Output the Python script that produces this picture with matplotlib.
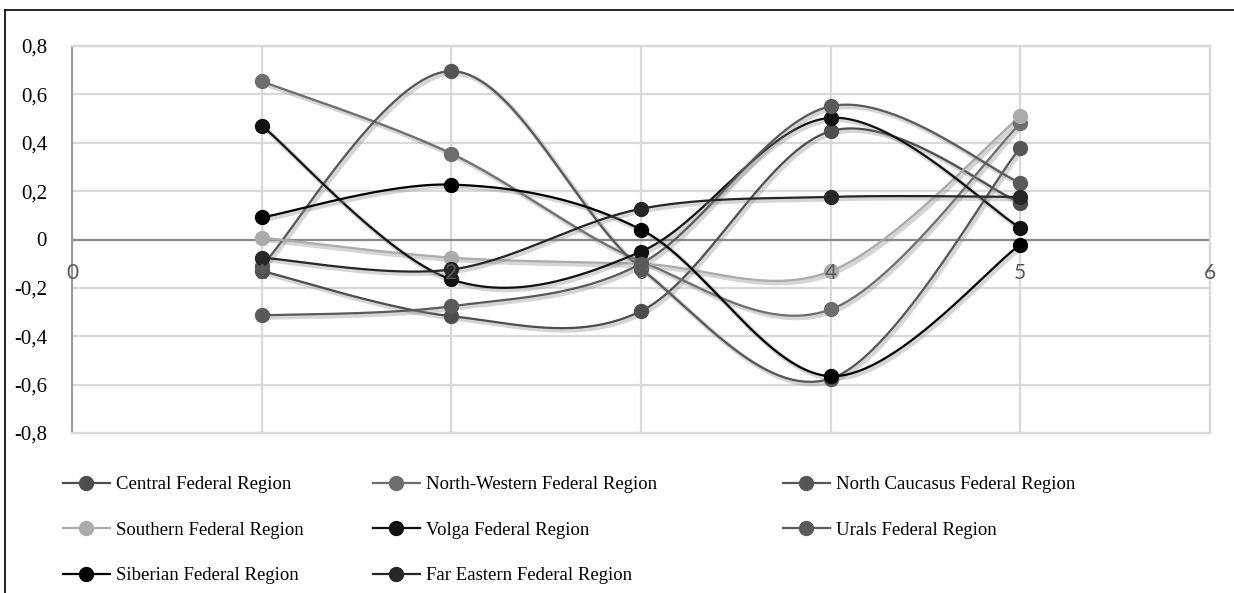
import numpy as np
import matplotlib
matplotlib.use("Agg")
import matplotlib.pyplot as plt
from matplotlib.lines import Line2D
import matplotlib.patheffects as pe

# ---------------- data ----------------
x_vals = [1, 2, 3, 4, 5]
series_names = [
    "Central Federal Region",
    "North-Western Federal Region",
    "North Caucasus Federal Region",
    "Southern Federal Region",
    "Volga Federal Region",
    "Urals Federal Region",
    "Siberian Federal Region",
    "Far Eastern Federal Region",
]
central = [-0.13, -0.317, -0.296, 0.448, 0.152]
north_western = [0.654, 0.355, -0.09, -0.289, 0.48]
north_caucasus = [-0.11, 0.696, -0.12, -0.575, 0.38]
southern = [0.008, -0.075, -0.10, -0.131, 0.51]
volga = [0.471, -0.165, -0.05, 0.503, 0.048]
urals = [-0.314, -0.276, -0.10, 0.551, 0.234]
siberian = [0.091, 0.227, 0.041, -0.565, -0.021]
far_eastern = [-0.075, -0.124, 0.127, 0.176, 0.176]
series_values = [central, north_western, north_caucasus, southern,
                 volga, urals, siberian, far_eastern]
series_colors = ["#4d4d4d", "#6e6e6e", "#565656", "#ababab",
                 "#111111", "#5a5a5a", "#000000", "#262626"]

y_ticks = [-0.8, -0.6, -0.4, -0.2, 0.0, 0.2, 0.4, 0.6, 0.8]
y_tick_labels = ["-0,8", "-0,6", "-0,4", "-0,2", "0", "0,2", "0,4", "0,6", "0,8"]
x_ticks = [0, 1, 2, 3, 4, 5, 6]
x_tick_labels = ["0", "1", "2", "3", "4", "5", "6"]


def smooth(xs, ys, n=60):
    """Excel-style smoothed line (Catmull-Rom / Bezier with 1/6 control points)."""
    P = np.column_stack([xs, ys]).astype(float)
    m = len(P)
    out = []
    for i in range(m - 1):
        p0 = P[i - 1] if i > 0 else P[i]
        p1 = P[i]
        p2 = P[i + 1]
        p3 = P[i + 2] if i + 2 < m else P[i + 1]
        c1 = p1 + (p2 - p0) / 6.0
        c2 = p2 - (p3 - p1) / 6.0
        t = np.linspace(0, 1, n)[:, None]
        seg = ((1 - t) ** 3) * p1 + 3 * ((1 - t) ** 2) * t * c1 + 3 * (1 - t) * t ** 2 * c2 + t ** 3 * p2
        out.append(seg if i == 0 else seg[1:])
    out = np.vstack(out)
    return out[:, 0], out[:, 1]


W, H = 1234, 593
fig = plt.figure(figsize=(W / 100, H / 100), dpi=100)
left_px, right_px, top_px, bottom_px = 72, 1210, 46, 433
ax = fig.add_axes([left_px / W, 1 - bottom_px / H,
                   (right_px - left_px) / W, (bottom_px - top_px) / H])

ax.set_xlim(0, 6)
ax.set_ylim(-0.8, 0.8)

grid_c = "#d9d9d9"
ax.set_yticks(y_ticks)
ax.set_yticklabels(y_tick_labels, fontfamily="Liberation Serif", fontsize=15)
ax.set_xticks(x_ticks)
ax.set_xticklabels([])
ax.tick_params(axis="both", length=0)
ax.tick_params(axis="y", pad=18)
ax.grid(True, color=grid_c, linewidth=1.6)
ax.set_axisbelow(True)
for s in ["top", "right", "bottom"]:
    ax.spines[s].set_color(grid_c)
    ax.spines[s].set_linewidth(1.6)
ax.spines["left"].set_color("#9a9a9a")
ax.spines["left"].set_linewidth(1.5)
ax.axhline(0, color="#8a8a8a", linewidth=1.6, zorder=1.5)

shadow = [pe.SimpleLineShadow(offset=(1.5, -1.5), shadow_color="#888888", alpha=0.35, linewidth=3.5),
          pe.Normal()]

handles = []
for name, vals, col in zip(series_names, series_values, series_colors):
    sx, sy = smooth(x_vals, vals)
    ax.plot(sx, sy, color=col, linewidth=1.6, zorder=3, path_effects=shadow)
    ax.plot(x_vals, vals, linestyle="none", marker="o", markersize=10,
            color=col, zorder=4)
    handles.append(Line2D([], [], color=col, linewidth=1.6, marker="o",
                          markersize=10, label=name))

for xt, lab in zip(x_ticks, x_tick_labels):
    ax.annotate(lab, xy=(xt, 0), xytext=(0, -17), textcoords="offset points",
                ha="center", va="top", fontsize=15, color="#595959",
                fontfamily="Lato", zorder=10, annotation_clip=False)

# legend: three columns
cols = [[0, 3, 6], [1, 4, 7], [2, 5]]
col_x = [63, 373, 783]
for ci, idxs in enumerate(cols):
    fig.legend(handles=[handles[i] for i in idxs], loc="upper left",
               bbox_to_anchor=(col_x[ci] / W, 1 - 476 / H),
               frameon=False, borderpad=0, borderaxespad=0,
               handlelength=2.5, handletextpad=0.3, labelspacing=1.52,
               numpoints=1,
               prop={"family": "Liberation Serif", "size": 13.5})

# outer frame (top and left edges visible)
fig.add_artist(Line2D([5 / W, 1.0], [1 - 10 / H, 1 - 10 / H], color="black", linewidth=1.2))
fig.add_artist(Line2D([5 / W, 5 / W], [0.0, 1 - 10 / H], color="black", linewidth=1.2))

fig.savefig("out.png", dpi=100)
